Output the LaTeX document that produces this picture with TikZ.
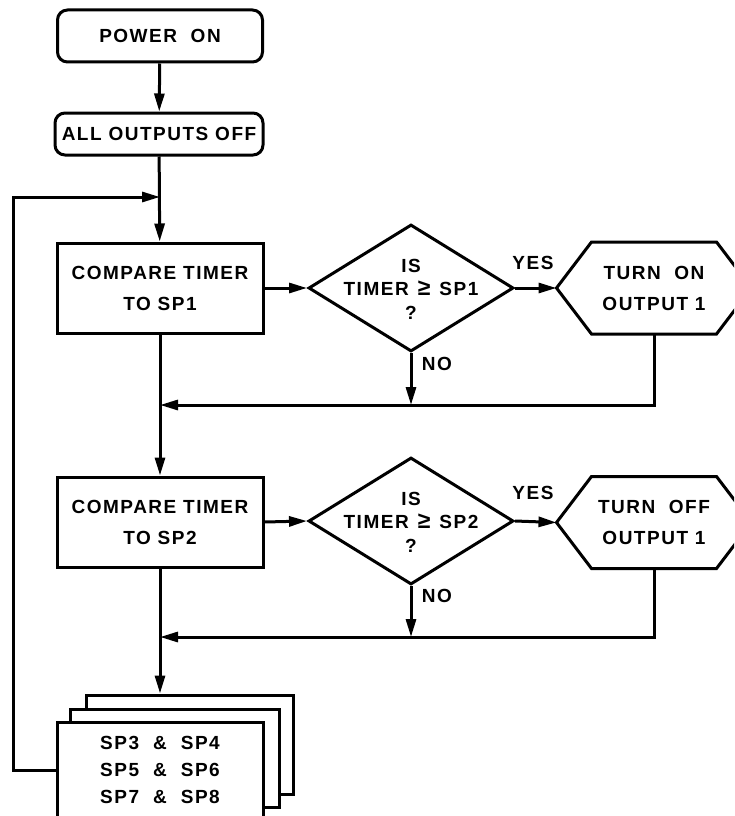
\documentclass[tikz,border=0pt]{standalone}
\usepackage{fontspec}
\setmainfont{Liberation Sans}[LetterSpace=8]
\usetikzlibrary{arrows.meta,shapes.geometric}
\newcommand{\bigge}{{\fontsize{23}{23}\selectfont ≥}}
\begin{document}
\begin{tikzpicture}[x=1pt,y=-1pt, line width=3pt,
  >={Triangle[length=18pt,width=10pt]},
  txt/.style={font=\fontsize{19}{31}\selectfont\bfseries, align=center},
  dtxt/.style={font=\fontsize{19}{23.5}\selectfont\bfseries, align=center},
  stxt/.style={font=\fontsize{19}{27}\selectfont\bfseries, align=center},
  term/.style={draw, rounded corners=10pt, inner sep=0pt, txt},
  proc/.style={draw, fill=white, minimum width=206pt, minimum height=90pt, inner sep=0pt, txt},
  dec/.style={draw, diamond, minimum width=205pt, minimum height=127pt, inner sep=0pt},
  hexbox/.style={minimum width=192pt, minimum height=89pt, inner sep=0pt, txt},
  sheet/.style={draw, fill=white, inner sep=0pt},
  lbl/.style={font=\fontsize{19}{20}\selectfont\bfseries}]
\useasboundingbox (0,0) rectangle (734,816);
\clip (0,0) rectangle (734,816);
\fill[white] (0,0) rectangle (734,816);

% top terminals
\node[term, minimum width=205pt, minimum height=52pt] (pon) at (160,36) {POWER\ \ ON};
\node[term, minimum width=208pt, minimum height=42pt] (aoff) at (159,134) {ALL OUTPUTS OFF};

% row 1
\node[proc] (c1) at (160,288) {COMPARE TIMER\\TO SP1};
\node[dec] (d1) at (411,288) {};
\node[dtxt] (d1t) at (411,289) {IS\\TIMER\hspace{9pt}\bigge\hspace{9pt}SP1\\?};
\node[hexbox] (h1) at (654,288) {TURN\ \ ON\\OUTPUT 1};
\draw (h1.west) -- ([xshift=35pt]h1.north west) -- ([xshift=-35pt]h1.north east) -- (h1.east)
      -- ([xshift=-35pt]h1.south east) -- ([xshift=35pt]h1.south west) -- cycle;
\node[lbl] (yes1) at (533,263) {YES};
\node[lbl] (no1) at (437,364) {NO};
\coordinate (j1) at (160,405);

% row 2
\node[proc] (c2) at (160,522) {COMPARE TIMER\\TO SP2};
\node[dec] (d2) at (411,521) {};
\node[dtxt] (d2t) at (411,522) {IS\\TIMER\hspace{9pt}\bigge\hspace{9pt}SP2\\?};
\node[hexbox] (h2) at (654,522.5) {TURN\ \ OFF\\OUTPUT 1};
\draw (h2.west) -- ([xshift=35pt]h2.north west) -- ([xshift=-35pt]h2.north east) -- (h2.east)
      -- ([xshift=-35pt]h2.south east) -- ([xshift=35pt]h2.south west) -- cycle;
\node[lbl] (yes2) at (533,493) {YES};
\node[lbl] (no2) at (437,596) {NO};
\coordinate (j2) at (160,637);

% stacked sheets
\node[sheet, minimum width=207pt, minimum height=99pt] (s3) at (189.5,744.5) {};
\node[sheet, minimum width=209pt, minimum height=98pt] (s2) at (174.5,758) {};
\node[sheet, minimum width=206pt, minimum height=96pt, stxt] (s1) at (160,770)
  {SP3\hspace{14pt}\&\hspace{14pt}SP4\\SP5\hspace{14pt}\&\hspace{14pt}SP6\\SP7\hspace{14pt}\&\hspace{14pt}SP8};

% loop
\coordinate (m0) at (160,197);
\coordinate (lp) at (13,197);

% connectors
\draw[->] (pon) -- (aoff);
\draw[->] (aoff) -- (c1);
\draw[->] (s1.west) -| (lp) -- (m0);
\draw[->] (c1.east) -- (d1.west);
\draw[->] (d1.east) -- (h1.west);
\draw[->] (d1.south) -- (d1.south |- j1);
\draw[->] (h1.south) |- (j1);
\draw[->] (c1.south) -- (c2.north);
\draw[->] (c2.east) -- (d2.west);
\draw[->] (d2.east) -- (h2.west);
\draw[->] (d2.south) -- (d2.south |- j2);
\draw[->] (h2.south) |- (j2);
\draw[->] (c2.south) -- (c2.south |- s3.north);
\end{tikzpicture}
\end{document}
